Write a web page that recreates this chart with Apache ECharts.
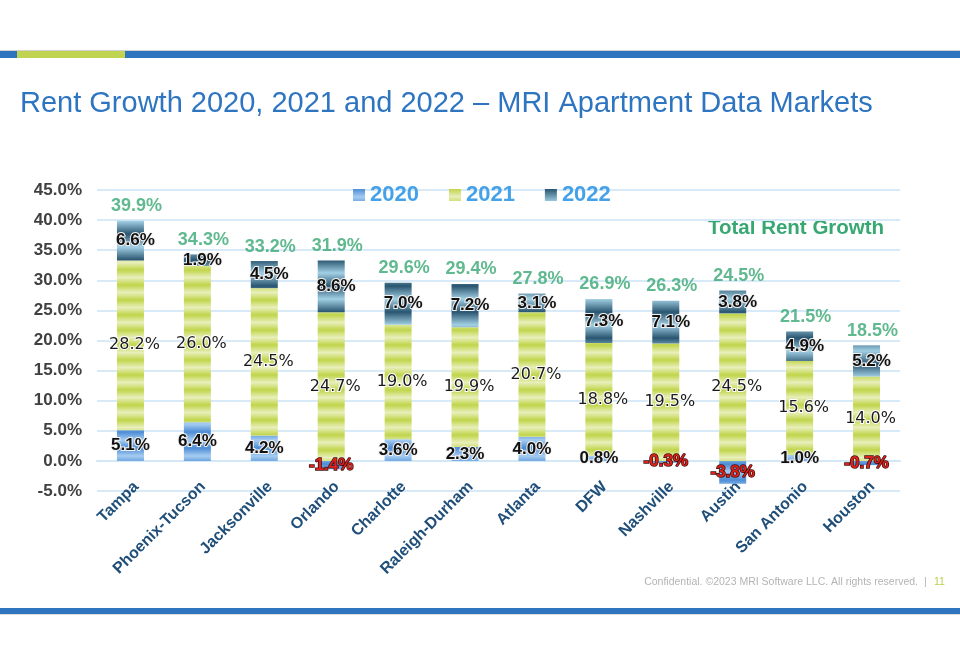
<!DOCTYPE html>
<html>
<head>
<meta charset="utf-8">
<title>Rent Growth 2020-2022</title>
<script src="https://cdn.jsdelivr.net/npm/echarts@6/dist/echarts.min.js"></script>
<style>
  html, body { margin: 0; padding: 0; background: #fff; }
  #chart { width: 960px; height: 655px; }
</style>
</head>
<body>
<div id="chart"></div>
<script>
// 市场及三年租金增长（%）
const markets = ['Tampa', 'Phoenix-Tucson', 'Jacksonville', 'Orlando', 'Charlotte', 'Raleigh-Durham',
                 'Atlanta', 'DFW', 'Nashville', 'Austin', 'San Antonio', 'Houston'];
const growth2020 = [5.1, 6.4, 4.2, -1.4, 3.6, 2.3, 4.0, 0.8, -0.3, -3.8, 1.0, -0.7];
const growth2021 = [28.2, 26.0, 24.5, 24.7, 19.0, 19.9, 20.7, 18.8, 19.5, 24.5, 15.6, 14.0];
const growth2022 = [6.6, 1.9, 4.5, 8.6, 7.0, 7.2, 3.1, 7.3, 7.1, 3.8, 4.9, 5.2];
const totalGrowth = [39.9, 34.3, 33.2, 31.9, 29.6, 29.4, 27.8, 26.9, 26.3, 24.5, 21.5, 18.5];
const yTicks = { min: -5, max: 45, step: 5 };

// 条纹纹理
function stripePattern(period, stops) {
    const c = document.createElement('canvas');
    c.width = 4;
    c.height = period;
    const ctx = c.getContext('2d');
    const g = ctx.createLinearGradient(0, 0, 0, period);
    stops.forEach(s => g.addColorStop(s[0], s[1]));
    ctx.fillStyle = g;
    ctx.fillRect(0, 0, 4, period);
    return { image: c, repeat: 'repeat' };
}

const fill2020 = stripePattern(16, [[0, '#4d8cd6'], [0.5, '#a6cdf1'], [1, '#4d8cd6']]);
const fill2021 = stripePattern(15, [[0, '#c1d54b'], [0.5, '#e8efbb'], [1, '#c1d54b']]);
const fill2022 = stripePattern(26, [[0, '#2a5570'], [0.5, '#a2d0e4'], [1, '#2a5570']]);

const pct = v => Number(v).toFixed(1) + '%';

const boldLabel = {
    show: true,
    position: 'inside',
    fontFamily: 'Liberation Sans',
    fontSize: 17,
    fontWeight: 'bold',
    color: '#111',
    textBorderColor: '#f2f2f2',
    textBorderWidth: 2,
    formatter: p => pct(p.value)
};
const negLabel = { color: '#e0201b', textBorderColor: '#3a1010', textBorderWidth: 1.5 };

// 正向堆叠顶端，用于放置合计标签
const positiveTop = markets.map((m, i) =>
    [growth2020[i], growth2021[i], growth2022[i]].filter(v => v > 0).reduce((a, b) => a + b, 0));

const chart = echarts.init(document.getElementById('chart'));

const option = {
    animation: false,
    grid: { left: 97, right: 60, top: 190, bottom: 164 },
    legend: {
        data: ['2020', '2021', '2022'],
        icon: 'rect',
        left: 348,
        top: 179,
        itemWidth: 12,
        itemHeight: 12,
        itemGap: 30,
        textStyle: { fontFamily: 'Liberation Sans', fontSize: 22, fontWeight: 'bold', color: '#45a1e8' }
    },
    xAxis: {
        type: 'category',
        data: markets,
        axisLine: { onZero: true, lineStyle: { color: '#d3e8f6', width: 2 } },
        axisTick: { show: false },
        axisLabel: {
            rotate: 45,
            margin: -1,
            padding: [0, -8, 0, 0],
            interval: 0,
            fontFamily: 'Liberation Sans',
            fontSize: 16,
            fontWeight: 'bold',
            color: '#1f4e79'
        }
    },
    yAxis: {
        type: 'value',
        min: yTicks.min,
        max: yTicks.max,
        interval: yTicks.step,
        axisLine: { show: false },
        axisTick: { show: false },
        splitLine: { lineStyle: { color: '#d8eaf7', width: 2 } },
        axisLabel: {
            margin: 15,
            fontFamily: 'Liberation Sans',
            fontSize: 17,
            fontWeight: 'bold',
            color: '#404040',
            formatter: v => pct(v)
        }
    },
    series: [
        {
            name: '2020',
            type: 'bar',
            stack: 'growth',
            barWidth: 27,
            itemStyle: { color: fill2020 },
            label: boldLabel,
            data: growth2020.map(v => (v < 0 ? { value: v, label: negLabel } : v))
        },
        {
            name: '2021',
            type: 'bar',
            stack: 'growth',
            barWidth: 27,
            itemStyle: { color: fill2021 },
            label: {
                show: true,
                position: 'inside',
                offset: [4, 0],
                fontFamily: 'DejaVu Sans',
                fontSize: 16,
                color: '#1a1a1a',
                textBorderColor: '#ffffff',
                textBorderWidth: 2,
                formatter: p => pct(p.value)
            },
            data: growth2021
        },
        {
            name: '2022',
            type: 'bar',
            stack: 'growth',
            barWidth: 27,
            itemStyle: { color: fill2022 },
            label: Object.assign({}, boldLabel, { offset: [5, 0] }),
            data: growth2022
        },
        {
            name: 'Total',
            type: 'scatter',
            symbolSize: 1,
            itemStyle: { color: 'rgba(0,0,0,0)' },
            label: {
                show: true,
                position: 'top',
                distance: 5,
                offset: [6, 0],
                fontFamily: 'Liberation Sans',
                fontSize: 18,
                fontWeight: 'bold',
                color: '#38a873',
                formatter: p => pct(totalGrowth[p.dataIndex])
            },
            data: positiveTop
        }
    ],
    graphic: [
        // 顶部装饰条
        { type: 'rect', shape: { x: 0, y: 50, width: 960, height: 1 }, style: { fill: '#d0d0d0' } },
        { type: 'rect', shape: { x: 0, y: 51, width: 960, height: 7 }, style: { fill: '#2e74bf' } },
        { type: 'rect', shape: { x: 17, y: 51, width: 108, height: 7 }, style: { fill: '#c0d452' } },
        {
            type: 'text', left: 20, top: 89,
            style: {
                text: 'Rent Growth 2020, 2021 and 2022 – MRI Apartment Data Markets',
                fill: '#2e75c1',
                font: '29px "Liberation Sans"'
            }
        },
        {
            type: 'text', left: 708, top: 218,
            style: {
                text: 'Total Rent Growth',
                fill: '#38a873',
                font: 'bold 20.5px "Liberation Sans"'
            }
        },
        // 页脚
        {
            type: 'text', right: 42, top: 577,
            style: {
                text: 'Confidential. ©2023 MRI Software LLC. All rights reserved.',
                fill: '#b4b4b4',
                font: '10.5px "Liberation Sans"'
            }
        },
        {
            type: 'text', left: 924, top: 577,
            style: { text: '|', fill: '#b4b4b4', font: '10.5px "Liberation Sans"' }
        },
        {
            type: 'text', left: 934, top: 577,
            style: { text: '11', fill: '#bcd04a', font: '10.5px "Liberation Sans"' }
        },
        { type: 'rect', shape: { x: 0, y: 608, width: 960, height: 6 }, style: { fill: '#2e74bf' } },
        { type: 'rect', shape: { x: 0, y: 614, width: 960, height: 1 }, style: { fill: '#dcdcdc' } }
    ]
};

chart.setOption(option);
</script>
</body>
</html>
